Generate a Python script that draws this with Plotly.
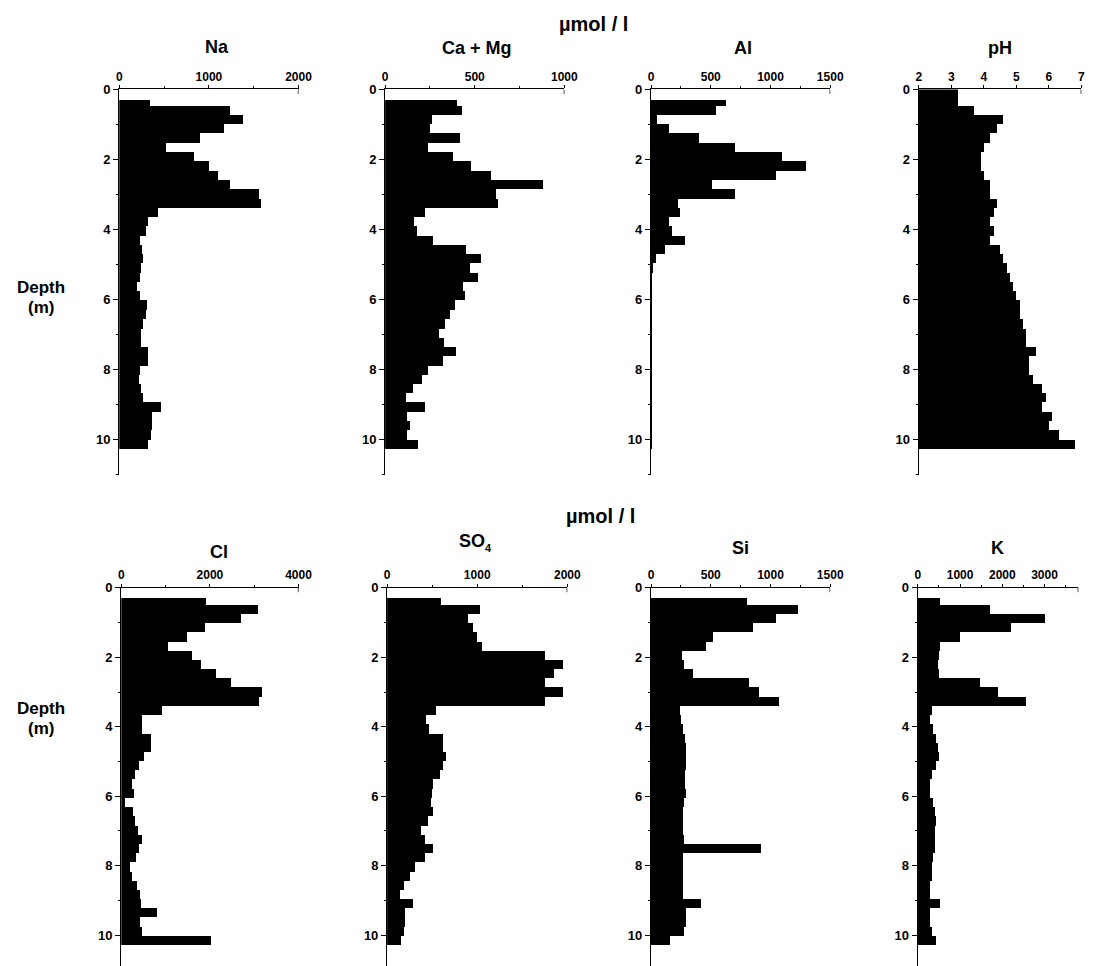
import plotly.graph_objects as go

# page is shown with the browser's default 8px body margin, so the figure is
# sized to the window minus that margin and target pixel positions are shifted
WIN_W, WIN_H, PAGE_MARGIN = 1113, 966, 8
W, H = WIN_W - PAGE_MARGIN, WIN_H - PAGE_MARGIN

# ---------------- data ----------------
depth_edges = [0.00, 0.30, 0.48, 0.75, 1.01, 1.27, 1.54, 1.80, 2.07, 2.33,
               2.60, 2.86, 3.13, 3.40, 3.66, 3.92, 4.19, 4.45, 4.72, 4.98,
               5.25, 5.51, 5.78, 6.04, 6.31, 6.57, 6.84, 7.10, 7.37, 7.63,
               7.90, 8.16, 8.42, 8.69, 8.95, 9.22, 9.48, 9.75, 10.01, 10.28]

na = [0, 345, 1236, 1382, 1175, 909, 527, 836, 1000, 1109,
      1236, 1564, 1582, 436, 320, 300, 236, 260, 273, 250,
      236, 200, 230, 309, 300, 273, 250, 240, 327, 320,
      236, 220, 250, 270, 473, 364, 370, 360, 327]
ca_mg = [0, 400, 431, 260, 250, 417, 240, 380, 481, 593,
         880, 620, 630, 222, 160, 176, 269, 450, 537, 472,
         519, 435, 444, 389, 361, 333, 300, 330, 398, 324,
         241, 204, 154, 115, 222, 120, 140, 120, 185]
al = [0, 630, 540, 50, 150, 400, 700, 1100, 1300, 1050,
      510, 700, 230, 243, 149, 176, 284, 120, 40, 10,
      8, 6, 6, 5, 5, 5, 6, 6, 5, 5,
      5, 5, 6, 6, 5, 5, 5, 5, 6]
ph = [3.2, 3.2, 3.7, 4.6, 4.4, 4.2, 4.0, 3.9, 3.9, 4.0,
      4.2, 4.2, 4.4, 4.3, 4.2, 4.3, 4.2, 4.5, 4.6, 4.7,
      4.8, 4.9, 5.0, 5.1, 5.1, 5.2, 5.3, 5.3, 5.6, 5.4,
      5.4, 5.5, 5.8, 5.9, 5.8, 6.1, 6.0, 6.3, 6.8]
cl = [0, 1925, 3082, 2700, 1900, 1500, 1067, 1600, 1813, 2149,
      2485, 3179, 3104, 918, 470, 470, 672, 672, 520, 400,
      320, 246, 300, 100, 269, 320, 380, 470, 400, 330,
      209, 246, 350, 430, 448, 806, 433, 470, 2037]
so4 = [0, 600, 1036, 900, 950, 1000, 1055, 1750, 1950, 1850,
       1750, 1950, 1750, 545, 436, 470, 620, 625, 654, 620,
       590, 509, 500, 491, 509, 450, 382, 420, 509, 420,
       310, 260, 190, 140, 284, 200, 200, 190, 153]
si = [0, 800, 1230, 1050, 850, 520, 459, 257, 280, 351,
      820, 900, 1070, 243, 250, 270, 285, 297, 297, 290,
      284, 284, 290, 275, 270, 270, 270, 275, 920, 270,
      265, 265, 265, 270, 419, 297, 297, 280, 162]
k = [0, 520, 1700, 3000, 2200, 1000, 520, 500, 480, 500,
     1460, 1900, 2550, 320, 280, 350, 430, 470, 500, 430,
     320, 280, 290, 350, 400, 420, 410, 410, 400, 350,
     330, 320, 290, 280, 520, 280, 280, 320, 430]

titles = ["Na", "Ca\u00a0+\u00a0Mg", "Al", "pH", "Cl", "SO", "Si", "K"]
title_subs = ["", "", "", "", "", "4", "", ""]
series = [na, ca_mg, al, ph, cl, so4, si, k]
bases = [0, 0, 0, 2, 0, 0, 0, 0]
x_ranges = [[0, 2000], [0, 1000], [0, 1500], [2, 7],
            [0, 4000], [0, 2000], [0, 1500], [0, 3800]]
x_tickvals = [[0, 1000, 2000], [0, 500, 1000], [0, 500, 1000, 1500], [2, 3, 4, 5, 6, 7],
              [0, 2000, 4000], [0, 1000, 2000], [0, 500, 1000, 1500], [0, 1000, 2000, 3000]]
x_minor = [500, 250, 250, None, 1000, 500, 250, 500]
unit_label = "\u00b5mol\u00a0/\u00a0l"
depth_word = "Depth"
depth_unit = "(m)"
depth_ticks = [0, 2, 4, 6, 8, 10]

# ---------------- layout geometry (window pixels) ----------------
col_px = [(118, 300), (388, 570), (658, 840), (930, 1095),
          (120, 300), (390, 573), (658, 840), (929, 1092)]
row_px = [(83, 471, 11.0), (585, 966, 10.886)]
title_px = [(217, 40), (481, 41), (751, 41), (1012, 41),
            (219, 549), (476, 538), (749, 545), (1010, 545)]


def px(x):
    return (x - PAGE_MARGIN) / W


def py(y):
    return 1 - (y - PAGE_MARGIN) / H


mids = [(a + b) / 2 for a, b in zip(depth_edges[:-1], depth_edges[1:])]
widths = [(b - a) for a, b in zip(depth_edges[:-1], depth_edges[1:])]

FONT = "Liberation Sans"
fig = go.Figure()
layout = {}
annotations = []
shapes = []

for i in range(8):
    n = i + 1
    row = 0 if i < 4 else 1
    x0, x1 = col_px[i]
    y0, y1, ymax = row_px[row]
    xa = "x" if n == 1 else f"x{n}"
    ya = "y" if n == 1 else f"y{n}"
    vals = [v - bases[i] for v in series[i]]
    fig.add_trace(go.Bar(
        orientation="h", y=mids, x=vals, width=widths, base=bases[i],
        marker=dict(color="black", line=dict(width=0)),
        xaxis=xa, yaxis=ya, showlegend=False, hoverinfo="skip"))

    xkey = "xaxis" if n == 1 else f"xaxis{n}"
    ykey = "yaxis" if n == 1 else f"yaxis{n}"
    xa_cfg = dict(
        domain=[px(x0), min(px(x1), 1.0)], range=x_ranges[i], anchor=ya, side="top",
        showline=True, linecolor="black", linewidth=1.3, mirror=False,
        showgrid=False, zeroline=False, ticks="outside", ticklen=3,
        tickcolor="black", tickwidth=1.2, tickvals=x_tickvals[i],
        tickfont=dict(family=FONT, size=12, color="black", weight="bold"),
        fixedrange=True)
    if x_minor[i]:
        xa_cfg["minor"] = dict(dtick=x_minor[i], ticks="outside", ticklen=2,
                               tickcolor="black", tickwidth=1)
    layout[xkey] = xa_cfg
    layout[ykey] = dict(
        domain=[max(py(y1), 0.0), py(y0)], range=[ymax, 0], anchor=xa,
        showline=True, linecolor="black", linewidth=1.3,
        showgrid=False, zeroline=False, ticks="outside", ticklen=5,
        tickcolor="black", tickwidth=1.3, tickvals=depth_ticks,
        tickfont=dict(family=FONT, size=13, color="black", weight="bold"),
        minor=dict(dtick=1, ticks="outside", ticklen=2, tickcolor="black", tickwidth=1),
        fixedrange=True)

    # small downward hook at the right end of each concentration axis
    shapes.append(dict(type="line", xref=xa, yref=f"{ya} domain",
                       x0=x_ranges[i][1], x1=x_ranges[i][1], y0=1.0, y1=0.988,
                       line=dict(color="black", width=1.3)))

    tx, ty = title_px[i]
    annotations.append(dict(
        text=f"<b>{titles[i]}</b>", x=px(tx), y=py(ty),
        xref="paper", yref="paper", showarrow=False, xanchor="center", yanchor="middle",
        font=dict(family=FONT, size=18, color="black")))
    if title_subs[i]:
        annotations.append(dict(
            text=f"<b>{title_subs[i]}</b>", x=px(tx + 11), y=py(ty + 7),
            xref="paper", yref="paper", showarrow=False, xanchor="left", yanchor="middle",
            font=dict(family=FONT, size=11, color="black")))

for ux, uy in [(600, 17), (607, 513)]:
    annotations.append(dict(
        text=f"<b>{unit_label}</b>", x=px(ux), y=py(uy), xref="paper", yref="paper",
        showarrow=False, xanchor="center", yanchor="middle",
        font=dict(family=FONT, size=20, color="black")))

for dy in [283, 707]:
    annotations.append(dict(
        text=f"<b>{depth_word}</b>", x=px(38), y=py(dy), xref="paper", yref="paper",
        showarrow=False, xanchor="center", yanchor="middle",
        font=dict(family=FONT, size=17, color="black")))
    annotations.append(dict(
        text=f"<b>{depth_unit}</b>", x=px(38), y=py(dy + 20), xref="paper", yref="paper",
        showarrow=False, xanchor="center", yanchor="middle",
        font=dict(family=FONT, size=17, color="black")))

fig.update_layout(
    width=W, height=H, margin=dict(l=0, r=0, t=0, b=0),
    paper_bgcolor="white", plot_bgcolor="white",
    annotations=annotations, shapes=shapes, bargap=0, **layout)

fig.write_html("out.html")
